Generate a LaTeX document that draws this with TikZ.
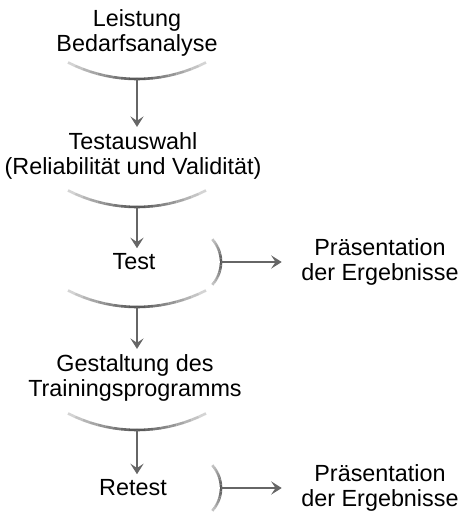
\documentclass[tikz,border=0pt]{standalone}
\usepackage{fontspec}
\setmainfont{Liberation Sans}
\usetikzlibrary{arrows.meta}

% shaded bowl under a step, lowest point at (#1,#2), named #3
\newcommand{\bowl}[3]{%
  \foreach \a [evaluate=\a as \k using {int(68-54*abs(\a+1.5)/27)}] in {-27,-24,...,24}
    \draw[line width=1.5pt, draw=black!\k] ({#1+152*sin(\a)},{#2-152+152*cos(\a)}) -- ({#1+152*sin(\a+3)},{#2-152+152*cos(\a+3)});
  \coordinate (#3) at (#1,#2);
}
% shaded rim right of a step, outer point at (#1,#2), named #3
\newcommand{\rim}[3]{%
  \foreach \a [evaluate=\a as \k using {int(68-46*abs(\a+2)/42)}] in {-42,-38,...,38}
    \draw[line width=1.5pt, draw=black!\k] ({#1-34+34*cos(\a)},{#2+34*sin(\a)}) -- ({#1-34+34*cos(\a+4)},{#2+34*sin(\a+4)});
  \coordinate (#3) at (#1,#2);
}

\begin{document}
\begin{tikzpicture}[x=0.02cm, y=-0.02cm,
    every node/.style={align=center, inner sep=0pt, font=\fontsize{13.3}{14.3}\selectfont},
    flow/.style={draw=black!60, line width=1.6pt, shorten >=3pt,
      -{Stealth[length=6pt,width=7.5pt,inset=2.5pt]}},
    side/.style={flow, shorten >=11pt}]
    \useasboundingbox (0,0) rectangle (462,515);

    \node (bedarf) at (137,33) {Leistung\\Bedarfsanalyse};
    \node (auswahl) at (133,156) {Testauswahl\\(Reliabilität und Validität)};
    \node (test) at (134,262) {Test};
    \node (praes1) at (380,262) {Präsentation\\der Ergebnisse};
    \node (gestalt) at (135,378) {Gestaltung des\\Trainingsprogramms};
    \node (retest) at (133,488) {Retest};
    \node (praes2) at (380,488) {Präsentation\\der Ergebnisse};

    \bowl{137}{79}{b1}
    \bowl{137}{207}{b2}
    \bowl{137}{307}{b3}
    \bowl{137}{430}{b4}
    \rim{221}{262}{r1}
    \rim{221}{488}{r2}

    \draw[flow] (b1) -- (b1 |- auswahl.north);
    \draw[flow] (b2) -- (b2 |- test.north);
    \draw[flow] (b3) -- (b3 |- gestalt.north);
    \draw[flow] (b4) -- (b4 |- retest.north);
    \draw[side] (r1) -- (r1 -| praes1.west);
    \draw[side] (r2) -- (r2 -| praes2.west);
\end{tikzpicture}
\end{document}
